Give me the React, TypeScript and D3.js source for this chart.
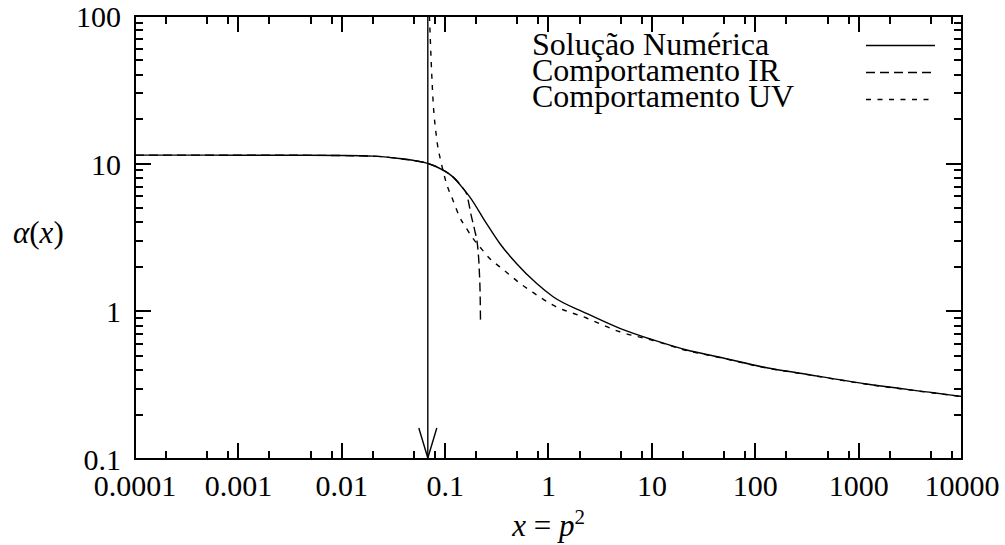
import React from 'react';
import * as d3 from 'd3';

// Axis ticks
const xDecades = [1e-4, 1e-3, 1e-2, 1e-1, 1, 10, 100, 1000, 10000];
const xTickLabels = ['0.0001', '0.001', '0.01', '0.1', '1', '10', '100', '1000', '10000'];
const xMinorSteps = [2, 5, 8];
const yDecades = [0.1, 1, 10, 100];
const yTickLabels = ['0.1', '1', '10', '100'];
const yMinorSteps = [2, 3, 4, 5, 6, 7, 8, 9];

// Solução Numérica
const numX = [1e-4, 3e-4, 1e-3, 3e-3, 0.01, 0.02, 0.036, 0.05, 0.0684, 0.0955, 0.119, 0.149, 0.173, 0.251, 0.338, 0.49, 0.765, 1.108, 2.33, 4.9, 10.3, 21.7, 45.5, 129, 271, 1197, 5285, 10000];
const numY = [11.42, 11.42, 11.41, 11.4, 11.35, 11.25, 10.84, 10.5, 10.03, 9.04, 8.14, 6.8, 5.96, 3.94, 2.88, 2.11, 1.547, 1.255, 0.969, 0.767, 0.64, 0.547, 0.489, 0.415, 0.381, 0.322, 0.281, 0.265];

// Comportamento IR
const irX = [1e-4, 3e-4, 1e-3, 3e-3, 0.01, 0.02, 0.036, 0.05, 0.0684, 0.0955, 0.119, 0.149, 0.1607, 0.18, 0.193, 0.208, 0.214, 0.2186, 0.2198];
const irY = [11.42, 11.42, 11.41, 11.4, 11.35, 11.25, 10.84, 10.5, 10.03, 9.04, 8.14, 6.8, 6.29, 4.36, 3.55, 2.6, 1.9, 1.19, 0.873];

// Comportamento UV
const uvX = [0.0705, 0.0764, 0.0824, 0.092, 0.103, 0.119, 0.138, 0.161, 0.186, 0.216, 0.27, 0.338, 0.423, 0.527, 0.659, 1.108, 2.33, 4.9, 10.3, 21.7, 45.5, 129, 271, 1197, 5285, 10000];
const uvY = [100, 26.9, 15.2, 10.03, 7.35, 5.66, 4.36, 3.64, 3.12, 2.74, 2.28, 2.0, 1.76, 1.55, 1.39, 1.1, 0.901, 0.727, 0.635, 0.543, 0.486, 0.413, 0.38, 0.321, 0.28, 0.264];

const arrowX = 0.068;
const legendLabels = ['Solução Numérica', 'Comportamento IR', 'Comportamento UV'];

const W = 1005;
const H = 545;
const L = 135;
const R = 962;
const T = 16;
const B = 459;
const font = '"Liberation Serif", serif';

const App = () => {
  const x = d3.scaleLog().domain([1e-4, 1e4]).range([L, R]);
  const y = d3.scaleLog().domain([0.1, 100]).range([B, T]);

  const line = d3
    .line<[number, number]>()
    .x((d) => x(d[0]))
    .y((d) => y(d[1]))
    .curve(d3.curveMonotoneX);

  const numPath = line(numX.map((v, i) => [v, numY[i]]) as [number, number][]) || '';
  const irPath = line(irX.map((v, i) => [v, irY[i]]) as [number, number][]) || '';
  const uvPath = line(uvX.map((v, i) => [v, uvY[i]]) as [number, number][]) || '';

  const xMinor: number[] = [];
  xDecades.slice(0, -1).forEach((d) => xMinorSteps.forEach((m) => xMinor.push(d * m)));
  const yMinor: number[] = [];
  yDecades.slice(0, -1).forEach((d) => yMinorSteps.forEach((m) => yMinor.push(d * m)));

  const major = 16;
  const minor = 8;

  // tick marks as small filled rects, mirrored on top and right
  const tickRects: { x: number; y: number; w: number; h: number }[] = [];
  const xt = (v: number, len: number) => {
    const px = Math.round(x(v));
    tickRects.push({ x: px - 1, y: B - len, w: 2, h: len });
    tickRects.push({ x: px - 1, y: T, w: 2, h: len });
  };
  const yt = (v: number, len: number) => {
    const py = Math.round(y(v));
    tickRects.push({ x: L, y: py - 1, w: len, h: 2 });
    tickRects.push({ x: R - len, y: py - 1, w: len, h: 2 });
  };
  xDecades.forEach((d) => xt(d, major));
  xMinor.forEach((d) => xt(d, minor));
  yDecades.forEach((d) => yt(d, major));
  yMinor.forEach((d) => yt(d, minor));

  const ax = x(arrowX);

  const legendRows = [
    { label: legendLabels[0], dash: 'none', base: 55, ly: 45.5 },
    { label: legendLabels[1], dash: '9,5', base: 81, ly: 72.5 },
    { label: legendLabels[2], dash: '5,6.5', base: 107, ly: 99.5 },
  ];

  return (
    <svg width={W} height={H} style={{ position: 'absolute', left: 0, top: 0, background: '#fff' }}>
      <defs>
        <clipPath id="plot">
          <rect x={L} y={T} width={R - L} height={B - T} />
        </clipPath>
      </defs>

      {/* tick labels */}
      <g fontFamily={font} fontSize={30} fill="#000">
        {xDecades.map((d, i) => (
          <text key={'xl' + i} x={x(d)} y={496} textAnchor="middle">
            {xTickLabels[i]}
          </text>
        ))}
        {yDecades.map((d, i) => (
          <text key={'yl' + i} x={121} y={y(d) + 11} textAnchor="end">
            {yTickLabels[i]}
          </text>
        ))}
      </g>

      {/* curves */}
      <g clipPath="url(#plot)" fill="none" stroke="#000" strokeWidth={1.4}>
        <path d={numPath} />
        <path d={irPath} strokeDasharray="9,5" />
        <path d={uvPath} strokeDasharray="5,6.5" />
      </g>

      {/* arrow */}
      <g fill="none" stroke="#000" strokeWidth={1.4}>
        <line x1={ax} x2={ax} y1={y(100)} y2={y(0.1)} />
        <polyline points={`${ax - 9},${B - 31} ${ax},${B - 1} ${ax + 9},${B - 31}`} />
      </g>

      {/* border */}
      <rect x={L} y={T} width={R - L} height={B - T} fill="none" stroke="#000" strokeWidth={2} />

      {/* ticks */}
      <g fill="#000" stroke="none">
        {tickRects.map((r, i) => (
          <rect key={'t' + i} x={r.x} y={r.y} width={r.w} height={r.h} />
        ))}
      </g>

      {/* legend */}
      <g fontFamily={font} fontSize={32} fill="#000">
        {legendRows.map((r, i) => (
          <g key={'lg' + i}>
            <text x={532} y={r.base}>
              {r.label}
            </text>
            <line
              x1={866}
              x2={935}
              y1={r.ly}
              y2={r.ly}
              stroke="#000"
              strokeWidth={1.4}
              strokeDasharray={r.dash}
            />
          </g>
        ))}
      </g>

      {/* axis labels */}
      <text x={13} y={243} fontFamily={font} fontSize={31} fill="#000">
        <tspan fontStyle="italic">α</tspan>
        <tspan>(</tspan>
        <tspan fontStyle="italic">x</tspan>
        <tspan>)</tspan>
      </text>
      <text x={(L + R) / 2} y={536} fontFamily={font} fontSize={31} fill="#000" textAnchor="middle">
        <tspan fontStyle="italic">x</tspan>
        <tspan> = </tspan>
        <tspan fontStyle="italic">p</tspan>
        <tspan fontSize={21} dy={-12}>2</tspan>
      </text>
    </svg>
  );
};

export default App;
